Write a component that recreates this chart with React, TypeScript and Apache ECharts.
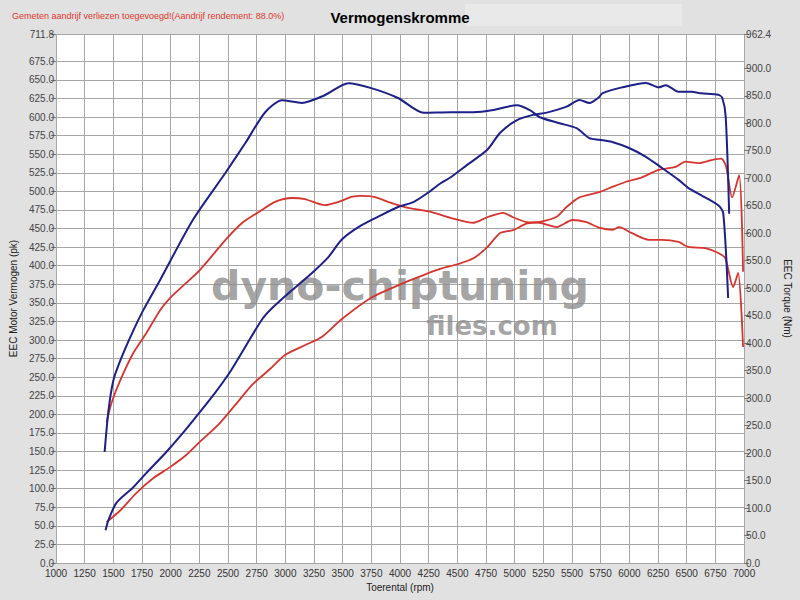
import React, { useEffect, useRef } from 'react';
import * as echarts from 'echarts';

// tick values as printed on the dyno sheet
const powerTicks = [
  0, 25, 50, 75, 100, 125, 150, 175, 200, 225, 250, 275, 300, 325, 350,
  375, 400, 425, 450, 475, 500, 525, 550, 575, 600, 625, 650, 675, 711.8,
];
const torqueTicks = [
  0, 50, 100, 150, 200, 250, 300, 350, 400, 450, 500, 550, 600, 650, 700,
  750, 800, 850, 900, 962.4,
];

// [rpm, pk] tuned
const tunedPower = [
  [1432, 44], [1458, 58], [1527, 81], [1674, 102], [1787, 121], [1960, 149],
  [2107, 175], [2254, 203], [2392, 230], [2513, 256], [2651, 291], [2798, 328],
  [2885, 343], [3057, 367], [3230, 390], [3377, 412], [3490, 435], [3637, 452],
  [3810, 466], [3982, 479], [4121, 486], [4242, 498], [4354, 511], [4441, 519],
  [4588, 536], [4761, 556], [4873, 579], [5020, 596], [5158, 603], [5279, 606],
  [5452, 614], [5565, 623], [5651, 619], [5737, 627], [5763, 632], [5936, 640],
  [6144, 646], [6256, 640], [6317, 643], [6429, 634], [6541, 634], [6628, 632],
  [6775, 630], [6810, 626], [6840, 600], [6870, 470],
];

// [rpm, Nm] tuned
const tunedTorque = [
  [1424, 202], [1458, 278], [1501, 333], [1562, 369], [1648, 411], [1761, 460],
  [1908, 515], [2193, 624], [2478, 710], [2651, 764], [2824, 820], [2971, 842],
  [3144, 837], [3343, 851], [3550, 873], [3749, 864], [3982, 846], [4207, 819],
  [4441, 820], [4640, 820], [4813, 824], [5020, 833], [5132, 824], [5219, 811],
  [5392, 800], [5539, 791], [5651, 773], [5737, 770], [5850, 766], [5997, 755],
  [6144, 739], [6282, 719], [6429, 697], [6515, 682], [6628, 669], [6775, 651],
  [6818, 637], [6861, 482],
];

// [rpm, pk] stock
const stockPower = [
  [1441, 55], [1562, 71], [1700, 94], [1847, 114], [1994, 129], [2133, 145],
  [2254, 163], [2427, 188], [2565, 213], [2712, 240], [2859, 260], [2997, 280],
  [3170, 293], [3317, 304], [3490, 328], [3749, 357], [4035, 377], [4181, 386],
  [4354, 396], [4501, 402], [4640, 410], [4761, 425], [4873, 444],
  [4986, 448], [5106, 457], [5219, 459], [5366, 466], [5452, 479], [5565, 492],
  [5737, 499], [5850, 506], [5971, 513], [6110, 519], [6256, 529], [6403, 533],
  [6490, 540], [6602, 538], [6714, 542], [6801, 544], [6844, 533], [6896, 492],
  [6957, 522], [6991, 392],
];

// [rpm, Nm] stock
const stockTorque = [
  [1441, 256], [1484, 291], [1562, 333], [1674, 382], [1787, 418], [1908, 460],
  [1994, 482], [2133, 509], [2254, 533], [2366, 560], [2478, 588], [2625, 619],
  [2772, 639], [2910, 657], [3057, 664], [3170, 662], [3343, 651], [3464, 657],
  [3576, 666], [3663, 668], [3775, 666], [3922, 655], [4069, 646], [4268, 639],
  [4441, 628], [4640, 619], [4761, 629], [4899, 637], [4986, 629], [5106, 620],
  [5219, 619], [5366, 611], [5504, 624], [5625, 620], [5737, 610], [5850, 606],
  [5910, 611], [6023, 600], [6170, 588], [6282, 588], [6429, 584], [6515, 575],
  [6662, 573], [6775, 564], [6835, 555], [6905, 502], [6948, 528], [6991, 393],
];

const BLUE = '#1c2088';
const RED = '#d6342f';
const FONT = '"Liberation Sans", Arial, sans-serif';

const App: React.FC = () => {
  const chartRef = useRef<HTMLDivElement>(null);

  useEffect(() => {
    if (!chartRef.current) return;
    const chart = echarts.init(chartRef.current, undefined, { renderer: 'svg' });

    const fmt = (v: number) => v.toFixed(1);

    const lineSeries = (name: string, axis: number, data: number[][], color: string, width: number, z: number) => ({
      name,
      type: 'line',
      yAxisIndex: axis,
      data,
      showSymbol: false,
      smooth: 0.25,
      z,
      lineStyle: { color, width },
    });

    const option: any = {
      animation: false,
      backgroundColor: '#e1e1e1',
      textStyle: { fontFamily: FONT },
      title: [
        {
          text: 'Gemeten aandrijf verliezen toegevoegd!(Aandrijf rendement: 88.0%)',
          left: 7,
          top: 6,
          textStyle: { fontSize: 9, fontWeight: 'normal', color: '#e0352f', fontFamily: FONT },
        },
        {
          text: 'Vermogenskromme',
          left: 'center',
          top: 5,
          textStyle: { fontSize: 15, fontWeight: 'bold', color: '#000', fontFamily: FONT },
        },
      ],
      graphic: [
        {
          type: 'rect',
          z: -1,
          shape: { x: 465, y: 4, width: 217, height: 22 },
          style: { fill: '#e9e9e9' },
          silent: true,
        },
        {
          type: 'text',
          z: 1,
          x: 400,
          y: 286,
          silent: true,
          style: {
            text: 'dyno-chiptuning',
            fill: 'rgba(140,140,140,0.8)',
            font: 'bold 41px "DejaVu Sans"',
            align: 'center',
            verticalAlign: 'middle',
          },
        },
        {
          type: 'text',
          z: 1,
          x: 492,
          y: 326,
          silent: true,
          style: {
            text: 'files.com',
            fill: 'rgba(140,140,140,0.8)',
            font: 'bold 26px "DejaVu Sans"',
            align: 'center',
            verticalAlign: 'middle',
          },
        },
      ],
      grid: {
        left: 52,
        right: 54,
        top: 34,
        bottom: 37,
        show: true,
        backgroundColor: '#ffffff',
        borderWidth: 0,
      },
      xAxis: {
        type: 'value',
        min: 1000,
        max: 7000,
        interval: 250,
        name: 'Toerental (rpm)',
        nameLocation: 'middle',
        nameGap: 19,
        nameTextStyle: { fontSize: 10, color: '#222', fontFamily: FONT },
        axisLine: { show: false },
        axisTick: { show: false },
        axisLabel: { fontSize: 10, color: '#333', margin: 5, fontFamily: FONT, formatter: (v: number) => String(v) },
        splitLine: { show: true, lineStyle: { color: '#a6a6a6', width: 1 } },
      },
      yAxis: [
        {
          type: 'value',
          position: 'left',
          min: 0,
          max: 711.8,
          interval: 25,
          name: 'EEC Motor Vermogen (pk)',
          nameLocation: 'middle',
          nameGap: 38,
          nameTextStyle: { fontSize: 10, color: '#222', fontFamily: FONT },
          axisLine: { show: false },
          axisTick: { show: true, length: 5, customValues: powerTicks, lineStyle: { color: '#777' } },
          axisLabel: { customValues: powerTicks, formatter: fmt, fontSize: 10, color: '#444', margin: 2, fontFamily: FONT },
          splitLine: { show: true, lineStyle: { color: '#a6a6a6', width: 1 } },
        },
        {
          type: 'value',
          position: 'right',
          min: 0,
          max: 962.4,
          interval: 50,
          name: 'EEC Torque (Nm)',
          nameLocation: 'middle',
          nameRotate: -90,
          nameGap: 36,
          nameTextStyle: { fontSize: 10, color: '#222', fontFamily: FONT },
          axisLine: { show: false },
          axisTick: { show: true, length: 5, customValues: torqueTicks, lineStyle: { color: '#777' } },
          axisLabel: { customValues: torqueTicks, formatter: fmt, fontSize: 10, color: '#444', margin: 2, fontFamily: FONT },
          splitLine: { show: false },
        },
      ],
      series: [
        lineSeries('Vermogen tuned', 0, tunedPower, BLUE, 2, 4),
        lineSeries('Koppel tuned', 1, tunedTorque, BLUE, 2, 4),
        lineSeries('Vermogen standaard', 0, stockPower, RED, 1.8, 3),
        lineSeries('Koppel standaard', 1, stockTorque, RED, 1.8, 3),
      ],
    };

    chart.setOption(option);

    return () => {
      chart.dispose();
    };
  }, []);

  return (
    <div
      ref={chartRef}
      style={{ position: 'fixed', left: 0, top: 0, width: '800px', height: '600px' }}
    />
  );
};

export default App;
